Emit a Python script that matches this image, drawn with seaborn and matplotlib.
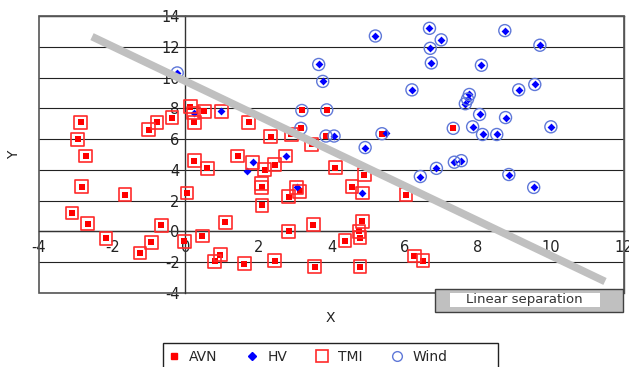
import matplotlib
matplotlib.use("Agg")
import matplotlib.pyplot as plt
import seaborn as sns
from matplotlib.lines import Line2D
from matplotlib.patches import Rectangle

# ---------------- data ----------------
avn_x = [0.14, 0.25, 0.52, -0.36, -0.77, -1.0, -2.86, -2.94, -2.72, 0.25, 0.6, -2.83, -1.65, 0.05,
         -3.1, -2.67, -0.66, 1.1, -2.17, -0.93, -1.24, -0.03, 0.47, 0.96, 0.8, 1.43, 2.17, 2.45,
         4.1, 4.9, 2.09, 4.56, 3.13, 2.83, 2.1, 2.83, 3.5, 4.84, 4.75, 4.78, 4.37, 1.62, 2.45,
         3.54, 4.78, 3.19, 3.87, 1.73, 3.16, 2.34, 3.85, 5.38, 3.46, 2.9, 7.33, 6.04, 6.26, 6.5]
avn_y = [8.1, 7.1, 7.8, 7.4, 7.1, 6.6, 7.1, 6.0, 4.9, 4.6, 4.1, 2.9, 2.4, 2.5,
         1.2, 0.5, 0.4, 0.6, -0.45, -0.7, -1.4, -0.65, -0.3, -1.5, -1.95, 4.9, 4.0, 4.35,
         4.15, 3.7, 2.86, 2.9, 2.6, 2.27, 1.7, 0.0, 0.45, 0.65, 0.0, -0.4, -0.6, -2.1, -1.9,
         -2.3, -2.3, 7.86, 7.9, 7.1, 6.7, 6.15, 6.2, 6.35, 5.65, 6.3, 6.7, 2.4, -1.6, -1.9]

tmi_x = [0.14, 0.25, 0.52, -0.36, -0.77, -1.0, -2.86, -2.94, -2.72, 0.25, 0.6, -2.83, -1.65, 0.05,
         -3.1, -2.67, -0.66, 1.1, -2.17, -0.93, -1.24, -0.03, 0.47, 0.96, 0.8, 1.43, 2.17, 2.45,
         4.1, 4.9, 2.09, 4.56, 3.13, 2.83, 2.1, 2.83, 3.5, 4.84, 4.75, 4.78, 4.37, 1.62, 2.45,
         3.54, 4.78, 1.73, 2.34, 3.46, 2.9, 6.04, 6.26, 6.5,
         0.99, 0.23, 1.84, 2.75, 3.05, 4.84, 2.09]
tmi_y = [8.1, 7.1, 7.8, 7.4, 7.1, 6.6, 7.1, 6.0, 4.9, 4.6, 4.1, 2.9, 2.4, 2.5,
         1.2, 0.5, 0.4, 0.6, -0.45, -0.7, -1.4, -0.65, -0.3, -1.5, -1.95, 4.9, 4.0, 4.35,
         4.15, 3.7, 2.86, 2.9, 2.6, 2.27, 1.7, 0.0, 0.45, 0.65, 0.0, -0.4, -0.6, -2.1, -1.9,
         -2.3, -2.3, 7.1, 6.15, 5.65, 6.3, 2.4, -1.6, -1.9,
         7.8, 7.7, 4.5, 4.9, 2.86, 2.5, 3.1]

hv_x = [-0.22, 0.23, 0.99, 1.84, 1.68, 2.75, 3.05, 4.84, 4.07, 5.5, 5.2, 3.65, 3.76, 4.92,
        6.68, 7.0, 6.7, 6.73, 8.74, 9.7, 8.1, 6.2, 9.12, 9.56, 7.77, 7.72, 7.66, 8.05, 8.76,
        7.86, 10.0, 8.13, 8.52, 6.43, 6.87, 7.36, 7.55, 8.85, 9.53]
hv_y = [10.3, 7.7, 7.8, 4.5, 3.96, 4.9, 2.86, 2.5, 6.2, 6.4, 12.7, 10.85, 9.75, 5.45,
        13.2, 12.45, 11.9, 10.95, 13.05, 12.1, 10.8, 9.2, 9.2, 9.55, 8.9, 8.6, 8.3, 7.6, 7.4,
        6.8, 6.8, 6.3, 6.3, 3.57, 4.1, 4.5, 4.6, 3.7, 2.86]

wind_x = [-0.22, 5.2, 3.65, 3.76, 3.19, 3.87, 3.16, 3.85, 4.07, 5.38, 4.92, 6.68, 7.0, 6.7,
          6.73, 8.74, 9.7, 8.1, 6.2, 9.12, 9.56, 7.77, 7.72, 7.66, 8.05, 8.76, 7.33, 7.86,
          10.0, 8.13, 8.52, 6.43, 6.87, 7.36, 7.55, 8.85, 9.53]
wind_y = [10.3, 12.7, 10.85, 9.75, 7.86, 7.9, 6.7, 6.2, 6.2, 6.35, 5.45, 13.2, 12.45, 11.9,
          10.95, 13.05, 12.1, 10.8, 9.2, 9.2, 9.55, 8.9, 8.6, 8.3, 7.6, 7.4, 6.7, 6.8,
          6.8, 6.3, 6.3, 3.57, 4.1, 4.5, 4.6, 3.7, 2.86]

sep_x = [-2.55, 11.48]
sep_y = [12.66, -3.25]

x_ticks = [-4, -2, 0, 2, 4, 6, 8, 10, 12]
y_ticks = [-4, -2, 0, 2, 4, 6, 8, 10, 12, 14]

# ---------------- figure ----------------
sns.set_theme(style="white")
plt.rcParams['font.family'] = ['DejaVu Sans']

fig = plt.figure(figsize=(6.29, 3.67), dpi=100)
ax = fig.add_axes([39/629, 1-293/367, (624-39)/629, (293-16)/367])

red = "#ff0000"
blue = "#0000ff"
lblue = "#5f78d8"

sns.scatterplot(x=avn_x, y=avn_y, marker="s", s=18, color=red, edgecolor=red, linewidth=0, ax=ax, zorder=3)
sns.scatterplot(x=hv_x, y=hv_y, marker="D", s=16, color=blue, edgecolor=blue, linewidth=0, ax=ax, zorder=3)
sns.scatterplot(x=tmi_x, y=tmi_y, marker="s", s=85, facecolors="none", edgecolors="#ff2a2a", linewidth=1.2, ax=ax, zorder=3)
sns.scatterplot(x=wind_x, y=wind_y, marker="o", s=75, facecolors="none", edgecolors=lblue, linewidth=1.0, ax=ax, zorder=3)

ax.plot(sep_x, sep_y, color="#c0c0c0", lw=5.5, solid_capstyle="butt", zorder=4)

ax.set_xlim(-4, 12)
ax.set_ylim(-4, 14)
ax.set_xticks(x_ticks)
ax.set_yticks(y_ticks)
ax.set_xticklabels([str(t) for t in x_ticks])
ax.set_yticklabels([str(t) for t in y_ticks])

for y in y_ticks:
    ax.axhline(y, color="#222222", lw=0.8, zorder=1)

ax.spines['left'].set_position(('data', 0))
ax.spines['bottom'].set_position(('data', 0))
for s in ['left', 'bottom']:
    ax.spines[s].set_color('#333333')
    ax.spines[s].set_linewidth(1.0)
    ax.spines[s].set_zorder(2)
for s in ['top', 'right']:
    ax.spines[s].set_color('#555555')
    ax.spines[s].set_linewidth(1.0)
ax.add_patch(Rectangle((0, 0), 1, 1, transform=ax.transAxes, fill=False,
                       edgecolor='#555555', lw=1.2, clip_on=False, zorder=2))

ax.tick_params(axis='x', direction='out', length=4, width=0.8, color='#333333',
               labelsize=10.5, pad=2, labelcolor='#222222')
ax.tick_params(axis='y', direction='out', length=3, width=0.8, color='#333333',
               labelsize=10.5, pad=1, labelcolor='#222222')
ax.set_xlabel("")
ax.set_ylabel("")

fig.text(330/629, 1-318/367, "X", ha="center", va="center", fontsize=10, color="#222222")
fig.text(14/629, 1-155/367, "Y", ha="center", va="center", fontsize=10, rotation=90, color="#222222")

# linear separation label box
fig.patches.append(Rectangle((435/629, 1-312/367), (623-435)/629, 23/367, transform=fig.transFigure,
                             facecolor="#c0c0c0", edgecolor="#404040", lw=1.0, zorder=5))
fig.patches.append(Rectangle((450/629, 1-307/367), (600-450)/629, 14/367, transform=fig.transFigure,
                             facecolor="white", edgecolor="none", zorder=6))
fig.text(524/629, 1-300/367, "Linear separation", ha="center", va="center", fontsize=9.5,
         color="#333333", zorder=7)

# legend frame (extends beyond the bottom edge like the reference)
fig.patches.append(Rectangle((163/629, -0.05), (498-163)/629, 0.05 + 1-343/367, transform=fig.transFigure,
                             facecolor="white", edgecolor="#222222", lw=1.0, zorder=1))

handles = [
    Line2D([], [], ls="none", marker="s", ms=5, mfc=red, mec=red),
    Line2D([], [], ls="none", marker="D", ms=4, mfc=blue, mec=blue),
    Line2D([], [], ls="none", marker="s", ms=8, mfc="none", mec="#ff2a2a", mew=1.2),
    Line2D([], [], ls="none", marker="o", ms=7, mfc="none", mec=lblue, mew=1.0),
]
leg = fig.legend(handles, ["AVN", "HV", "TMI", "Wind"], loc="upper left",
                 bbox_to_anchor=(160/629, 1-343/367), ncol=4, frameon=False,
                 fontsize=10, handlelength=1.0, handletextpad=0.6,
                 columnspacing=2.0, borderpad=0.5, borderaxespad=0)

fig.savefig("out.png", dpi=100)
